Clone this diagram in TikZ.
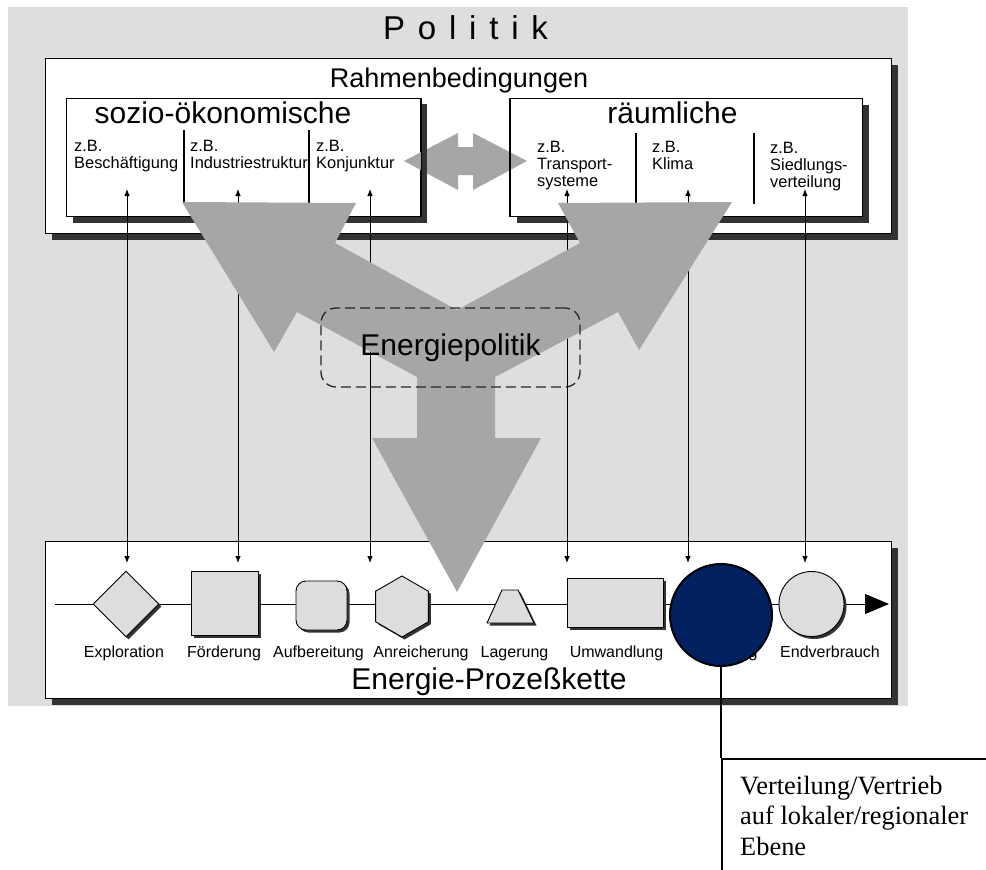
\documentclass[tikz,border=0pt]{standalone}
\usepackage{fontspec}
\setmainfont{Liberation Sans}
\newfontfamily\notefont{Liberation Serif}
\usetikzlibrary{arrows.meta,shapes.geometric,shadows,calc}

\definecolor{panelgray}{HTML}{DEDEDE}
\definecolor{flowgray}{HTML}{A6A6A6}
\definecolor{shapegray}{HTML}{DDDDDD}
\definecolor{shadowgray}{HTML}{333333}
\definecolor{navyblue}{HTML}{002060}

\newcommand*\titlegap{\hspace{12.8pt}}

\tikzset{
  framebox/.style={draw=black, line width=1.3pt, fill=white, inner sep=0pt,
    drop shadow={shadow xshift=6pt, shadow yshift=-6pt, fill=shadowgray, opacity=1}},
  chainshape/.style={draw=black, line width=0.9pt, fill=shapegray, inner sep=0pt,
    drop shadow={shadow xshift=2.5pt, shadow yshift=-2.5pt, fill=black!80, opacity=1}},
  steplabel/.style={font=\fontsize{16}{18}\selectfont, inner sep=0pt, anchor=base},
  exlabel/.style={font=\fontsize{16.4}{17}\selectfont, align=left, anchor=base west, inner sep=0pt},
  heading/.style={font=\fontsize{30}{34}\selectfont, inner sep=0pt, anchor=base},
  divider/.style={line width=1.2pt},
  link/.style={line width=0.8pt, {Latex[length=7pt,width=5.5pt]}-{Latex[length=7pt,width=5.5pt]}},
}

\begin{document}
\begin{tikzpicture}[x=1pt,y=-1pt]
\useasboundingbox (0,0) rectangle (986,870);

% grey policy panel
\fill[panelgray] (8,7) rectangle (908,706);
\node[font=\fontsize{33}{36}\selectfont, anchor=base, inner sep=0pt] (politik) at (465.5,39)
  {P\titlegap o\titlegap l\titlegap i\titlegap t\titlegap i\titlegap k};

% framework boxes
\node[framebox, anchor=north west, minimum width=846, minimum height=175] (rahmen) at (45,58) {};
\node[framebox, anchor=north west, minimum width=354, minimum height=118] (socio) at (66,98) {};
\node[framebox, anchor=north west, minimum width=352, minimum height=118] (raeum) at (510,98) {};

% double arrow between the two kinds of conditions
\fill[flowgray] (404,161) -- (458,133) -- (458,147) -- (473,147) -- (473,133) -- (527,161)
  -- (473,190) -- (473,175) -- (458,175) -- (458,190) -- cycle;
\fill[shadowgray] ($(socio.north east)+(0,6)$) rectangle ($(socio.south east)+(6,6)$);
\draw[line width=1.3pt] (socio.north east) -- (socio.south east);
\draw[line width=1.3pt] (raeum.north west) -- (raeum.south west);

% headings
\node[font=\fontsize{27}{30}\selectfont, anchor=base, inner sep=0pt] (rahmentitle) at (459,87) {Rahmenbedingungen};
\node[heading] (sociotitle) at (223,123) {sozio-ökonomische};
\node[heading] (raeumtitle) at (672.5,123) {räumliche};

% columns (anchored at the baseline of the last line)
\draw[divider] (184,130) -- (184,202);
\draw[divider] (309,130) -- (309,203);
\draw[divider] (636,133) -- (636,203);
\draw[divider] (754,133) -- (754,204);
\node[exlabel] (ex1) at (74,168) {z.B.\\Beschäftigung};
\node[exlabel] (ex2) at (190,168) {z.B.\\Industriestruktur};
\node[exlabel] (ex3) at (316,168) {z.B.\\Konjunktur};
\node[exlabel] (ex4) at (537,186) {z.B.\\Transport-\\systeme};
\node[exlabel] (ex5) at (652,169) {z.B.\\Klima};
\node[exlabel] (ex6) at (770,187) {z.B.\\Siedlungs-\\verteilung};

% process chain
\node[framebox, anchor=north west, minimum width=846, minimum height=157] (chain) at (45,541) {};
\coordinate (chainstart) at (55,604);
\coordinate (chainend) at (889,604);
\draw[line width=1pt, -{Triangle[length=24pt,width=20pt]}] (chainstart) -- (chainend);

\node[chainshape, diamond, minimum width=66, minimum height=66] (explo) at (126,604) {};
\node[chainshape, rectangle, minimum width=67, minimum height=64] (foerd) at (224.5,603) {};
\node[chainshape, rectangle, rounded corners=10pt, minimum width=51, minimum height=49] (aufb) at (321.5,605.5) {};
\node[chainshape, regular polygon, regular polygon sides=6, regular polygon rotate=30,
  minimum size=61] (anrei) at (402,606.5) {};
% storage step: trapezoid
\fill[black!80] (489.5,625.5) -- (504.5,592.5) -- (520.5,592.5) -- (536.5,625.5) -- cycle;
\filldraw[fill=shapegray, draw=black, line width=0.9pt]
  (487,623) -- (502,590) -- (518,590) -- (534,623) -- cycle;
\node[chainshape, rectangle, minimum width=96, minimum height=49] (umw) at (615,602.5) {};
\node[chainshape, circle, minimum size=65] (endv) at (811.5,604) {};

\node[steplabel] (lexplo) at (124,657) {Exploration};
\node[steplabel] (lfoerd) at (224,657) {Förderung};
\node[steplabel] (laufb) at (318.5,657) {Aufbereitung};
\node[steplabel] (lanrei) at (421,657) {Anreicherung};
\node[steplabel] (llager) at (514.5,657) {Lagerung};
\node[steplabel] (lumw) at (616.5,657) {Umwandlung};
\node[steplabel] (lverteil) at (722,657) {Verteilung};
\node[steplabel] (lendv) at (830,657) {Endverbrauch};
\node[heading] (chaintitle) at (489,689) {Energie-Prozeßkette};

% links between conditions and chain steps
\foreach \xx/\nn in {127/a,238/b,370/c,567/d,688/e,805/f}{
  \coordinate (up\nn) at (\xx,189);
  \coordinate (dn\nn) at (\xx,563);
  \draw[link] (up\nn) -- (dn\nn);
}

% energy policy flow arrows
\fill[flowgray] (182,202) -- (356,203) -- (335,243) -- (457,310) -- (580,243) -- (558,203)
  -- (732,202) -- (639,350) -- (618,312) -- (495,377) -- (495,438) -- (541,438)
  -- (457,592) -- (372,438) -- (417,438) -- (417,377) -- (297,312) -- (274,352) -- cycle;

\node[draw=black!85, line width=1.3pt, dash pattern=on 10pt off 5pt, rounded corners=15pt,
  minimum width=259, minimum height=79, inner sep=0pt,
  font=\fontsize{30}{34}\selectfont] (epolitik) at (450.5,347.5) {Energiepolitik};

% highlighted step with note
\node[circle, draw=black, line width=2pt, fill=navyblue, minimum size=102, inner sep=0pt] (verteil) at (721,615) {};
\node[draw=black, line width=1.8pt, anchor=north west, minimum width=300, minimum height=150,
  inner sep=0pt] (note) at (721,758) {};
\draw[line width=1.8pt] (verteil.south) -- (note.north west);
\node[font=\notefont\fontsize{26.4}{30.5}\selectfont, align=left, anchor=base west, inner sep=0pt]
  (notetext) at (740,855) {Verteilung/Vertrieb\\auf lokaler/regionaler\\Ebene};

\end{tikzpicture}
\end{document}
